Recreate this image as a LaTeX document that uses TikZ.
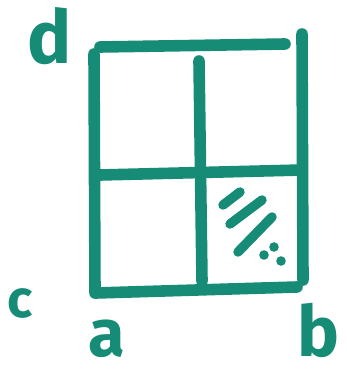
\documentclass[tikz,border=0pt]{standalone}
\usepackage{fontspec}
\setmainfont{Fira Sans}
\usetikzlibrary{positioning}
\definecolor{cInk}{RGB}{22,140,118}

\begin{document}
\begin{tikzpicture}[x=0.02cm,y=-0.02cm,
   pen/.style={cInk,line width=6.6pt,line cap=round},
   hatch/.style={cInk,line width=5.4pt,line cap=round},
   lbl/.style={text=cInk,inner sep=0pt,font=\bfseries}]
 \useasboundingbox (0,0) rectangle (346,375);
 % grid corners
 \coordinate (tl) at (100,47);   \coordinate (tr) at (285,44);
 \coordinate (rt) at (302,34);   \coordinate (rb) at (303,280);
 \coordinate (lt) at (94,54);    \coordinate (lb) at (95,293);
 \coordinate (mt) at (199,61);   \coordinate (mb) at (202,281);
 \coordinate (hl) at (100,175);  \coordinate (hr) at (302,170);
 \coordinate (bl) at (96,293);   \coordinate (br) at (297,287);
 % grid lines
 \foreach \s/\e in {tl/tr,rt/rb,lt/lb,mt/mb,hl/hr,bl/br}
   \draw[pen] (\s) -- (\e);
 % hatching in the lower right cell
 \coordinate (h1a) at (223,205); \coordinate (h1b) at (240,192);
 \coordinate (h2a) at (230,224); \coordinate (h2b) at (262,200);
 \coordinate (h3a) at (238,252); \coordinate (h3b) at (272,217);
 \foreach \s/\e in {h1a/h1b,h2a/h2b,h3a/h3b}
   \draw[hatch] (\s) -- (\e);
 \foreach \p in {(264,255),(274,247),(281,261)}
   \fill[cInk] \p circle (4.8);
 % corner letters
 \node[lbl,font=\bfseries\fontsize{42}{42}\selectfont] (d) at (50,36) {d};
 \node[lbl,font=\bfseries\fontsize{30}{30}\selectfont] (c) at (20,304) {c};
 \node[lbl,font=\bfseries\fontsize{38}{38}\selectfont] (a) at (107,339) {a};
 \node[lbl,font=\bfseries\fontsize{40}{40}\selectfont] (b) at (318,330) {b};
\end{tikzpicture}
\end{document}
